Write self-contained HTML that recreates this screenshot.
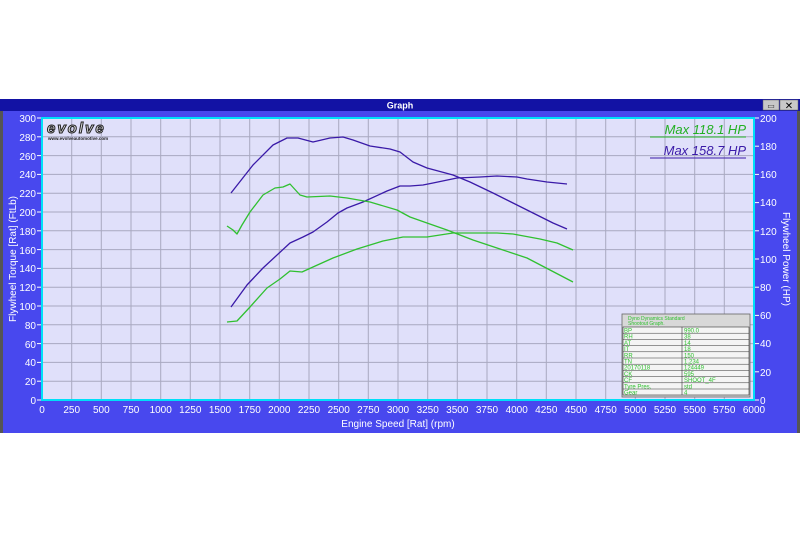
<!DOCTYPE html>
<html><head><meta charset="utf-8"><style>
html,body{margin:0;padding:0;background:#fff;width:800px;height:533px;overflow:hidden}
svg{display:block}
text{font-family:"Liberation Sans",sans-serif}
</style></head><body>
<svg width="800" height="533" viewBox="0 0 800 533" xmlns="http://www.w3.org/2000/svg">
<rect x="0" y="0" width="800" height="533" fill="#fff"/>
<!-- window -->
<rect x="0" y="99" width="800" height="334" fill="#4848ee"/>
<rect x="0" y="99" width="3" height="334" fill="#555"/>
<rect x="797" y="99" width="3" height="334" fill="#555"/>
<rect x="0" y="99" width="800" height="12" fill="#1212a4"/>
<text x="400" y="108.5" font-size="9" font-weight="bold" fill="#fff" text-anchor="middle">Graph</text>
<rect x="763" y="100" width="16" height="10" fill="#c8c8c8" stroke="#666" stroke-width="0.5"/>
<rect x="780" y="100" width="18" height="10" fill="#c8c8c8" stroke="#666" stroke-width="0.5"/>
<text x="771" y="108.5" font-size="8" text-anchor="middle" fill="#333">▭</text>
<text x="789" y="109" font-size="10" text-anchor="middle" fill="#000">✕</text>
<!-- plot -->
<rect x="41" y="117" width="714" height="284" fill="#00e0f8"/>
<rect x="43" y="119" width="710" height="280" fill="#e0e0fa"/>
<g stroke="#a8a8c0" stroke-width="1">
<line x1="71.7" y1="119" x2="71.7" y2="399"/><line x1="101.3" y1="119" x2="101.3" y2="399"/><line x1="131" y1="119" x2="131" y2="399"/><line x1="160.7" y1="119" x2="160.7" y2="399"/><line x1="190.3" y1="119" x2="190.3" y2="399"/><line x1="220" y1="119" x2="220" y2="399"/><line x1="249.7" y1="119" x2="249.7" y2="399"/><line x1="279.3" y1="119" x2="279.3" y2="399"/><line x1="309" y1="119" x2="309" y2="399"/><line x1="338.7" y1="119" x2="338.7" y2="399"/><line x1="368.3" y1="119" x2="368.3" y2="399"/><line x1="398" y1="119" x2="398" y2="399"/><line x1="427.7" y1="119" x2="427.7" y2="399"/><line x1="457.3" y1="119" x2="457.3" y2="399"/><line x1="487" y1="119" x2="487" y2="399"/><line x1="516.7" y1="119" x2="516.7" y2="399"/><line x1="546.3" y1="119" x2="546.3" y2="399"/><line x1="576" y1="119" x2="576" y2="399"/><line x1="605.7" y1="119" x2="605.7" y2="399"/><line x1="635.3" y1="119" x2="635.3" y2="399"/><line x1="665" y1="119" x2="665" y2="399"/><line x1="694.7" y1="119" x2="694.7" y2="399"/><line x1="724.3" y1="119" x2="724.3" y2="399"/>
<line x1="43" y1="381.2" x2="753" y2="381.2"/><line x1="43" y1="362.4" x2="753" y2="362.4"/><line x1="43" y1="343.6" x2="753" y2="343.6"/><line x1="43" y1="324.8" x2="753" y2="324.8"/><line x1="43" y1="306" x2="753" y2="306"/><line x1="43" y1="287.2" x2="753" y2="287.2"/><line x1="43" y1="268.4" x2="753" y2="268.4"/><line x1="43" y1="249.6" x2="753" y2="249.6"/><line x1="43" y1="230.8" x2="753" y2="230.8"/><line x1="43" y1="212" x2="753" y2="212"/><line x1="43" y1="193.2" x2="753" y2="193.2"/><line x1="43" y1="174.4" x2="753" y2="174.4"/><line x1="43" y1="155.6" x2="753" y2="155.6"/><line x1="43" y1="136.8" x2="753" y2="136.8"/>
</g>
<!-- logo -->
<text x="47" y="133" font-size="15" font-weight="bold" fill="#ddd" stroke="#222" stroke-width="1" letter-spacing="2" font-style="italic">evolve</text>
<text x="48" y="140" font-size="4.5" fill="#222" font-weight="bold">www.evolveautomotive.com</text>
<!-- curves -->
<g fill="none" stroke-width="1.3" stroke-linejoin="round">
<polyline stroke="#3a1aa8" points="231,193 253,165 273,145 287,138 298,138 313,142 330,138 343,137 353,140 370,146 390,149 400,152 413,162 427,168 453,175 470,182 493,193 513,203 533,213 553,223 567,229"/>
<polyline stroke="#3a1aa8" points="231,307 247,285 263,268 290,243 303,237 313,232 327,222 338,213 347,208 363,202 387,191 400,186 410,186 423,185 433,183 457,178 480,177 497,176 517,177 527,179 547,182 567,184"/>
<polyline stroke="#30c030" points="227,226 233,230 237,234 242,225 250,212 263,195 275,188 283,187 290,184 300,195 307,197 330,196 347,198 370,202 397,210 410,217 427,223 447,230 473,240 503,250 527,258 550,270 573,282"/>
<polyline stroke="#30c030" points="227,322 237,321 250,307 267,288 280,279 290,271 302,272 313,267 333,258 357,249 383,241 403,237 427,237 453,233 497,233 513,234 540,239 557,243 573,250"/>
</g>
<!-- max labels -->
<text x="746" y="134" font-size="13" font-style="italic" fill="#22b022" text-anchor="end">Max 118.1 HP</text>
<line x1="650" y1="137" x2="746" y2="137" stroke="#22b022" stroke-width="1"/>
<text x="746" y="155" font-size="13" font-style="italic" fill="#3a1aa8" text-anchor="end">Max 158.7 HP</text>
<line x1="650" y1="158" x2="746" y2="158" stroke="#3a1aa8" stroke-width="1"/>
<!-- info box -->
<rect x="622" y="314" width="128" height="83" fill="#d8d8d8" stroke="#666" stroke-width="0.8"/>
<text x="628" y="320" font-size="5" fill="#30c030">Dyno Dynamics Standard</text>
<text x="628" y="325" font-size="5" fill="#30c030">Shootout Graph.</text>
<rect x="623" y="327" width="126" height="68" fill="#f4f4f4" stroke="#333" stroke-width="0.6"/>
<line x1="682" y1="327" x2="682" y2="395" stroke="#333" stroke-width="0.6"/>
<g stroke="#333" stroke-width="0.5">
<line x1="623" y1="333.2" x2="749" y2="333.2"/><line x1="623" y1="339.4" x2="749" y2="339.4"/><line x1="623" y1="345.6" x2="749" y2="345.6"/><line x1="623" y1="351.8" x2="749" y2="351.8"/><line x1="623" y1="358" x2="749" y2="358"/><line x1="623" y1="364.2" x2="749" y2="364.2"/><line x1="623" y1="370.4" x2="749" y2="370.4"/><line x1="623" y1="376.6" x2="749" y2="376.6"/><line x1="623" y1="382.8" x2="749" y2="382.8"/><line x1="623" y1="389" x2="749" y2="389"/>
</g>
<g font-size="6" fill="#30c030">
<text x="624" y="332.5">BP</text><text x="684" y="332.5">990.0</text>
<text x="624" y="338.7">RH</text><text x="684" y="338.7">38</text>
<text x="624" y="344.9">AT</text><text x="684" y="344.9">14</text>
<text x="624" y="351.1">IT</text><text x="684" y="351.1">18</text>
<text x="624" y="357.3">RR</text><text x="684" y="357.3">150</text>
<text x="624" y="363.5">TN</text><text x="684" y="363.5">1.234</text>
<text x="624" y="369.7">20170118</text><text x="684" y="369.7">124449</text>
<text x="624" y="375.9">CK</text><text x="684" y="375.9">595</text>
<text x="624" y="382.1">CF</text><text x="684" y="382.1">SHOOT_4F</text>
<text x="624" y="388.3">Tyre Pres.</text><text x="684" y="388.3">std</text>
<text x="624" y="394.5">Gear</text><text x="684" y="394.5">4</text>
</g>
<!-- left axis -->
<g font-size="10" fill="#fff" text-anchor="end">
<text x="36" y="404">0</text><text x="36" y="385">20</text><text x="36" y="366">40</text><text x="36" y="348">60</text><text x="36" y="329">80</text><text x="36" y="310">100</text><text x="36" y="291">120</text><text x="36" y="272">140</text><text x="36" y="254">160</text><text x="36" y="235">180</text><text x="36" y="216">200</text><text x="36" y="197">220</text><text x="36" y="178">240</text><text x="36" y="160">260</text><text x="36" y="141">280</text><text x="36" y="122">300</text>
</g>
<g stroke="#fff" stroke-width="1">
<line x1="37" y1="400" x2="41" y2="400"/><line x1="37" y1="381.2" x2="41" y2="381.2"/><line x1="37" y1="362.4" x2="41" y2="362.4"/><line x1="37" y1="343.6" x2="41" y2="343.6"/><line x1="37" y1="324.8" x2="41" y2="324.8"/><line x1="37" y1="306" x2="41" y2="306"/><line x1="37" y1="287.2" x2="41" y2="287.2"/><line x1="37" y1="268.4" x2="41" y2="268.4"/><line x1="37" y1="249.6" x2="41" y2="249.6"/><line x1="37" y1="230.8" x2="41" y2="230.8"/><line x1="37" y1="212" x2="41" y2="212"/><line x1="37" y1="193.2" x2="41" y2="193.2"/><line x1="37" y1="174.4" x2="41" y2="174.4"/><line x1="37" y1="155.6" x2="41" y2="155.6"/><line x1="37" y1="136.8" x2="41" y2="136.8"/><line x1="37" y1="118" x2="41" y2="118"/>
<line x1="755" y1="400" x2="759" y2="400"/><line x1="755" y1="371.8" x2="759" y2="371.8"/><line x1="755" y1="343.6" x2="759" y2="343.6"/><line x1="755" y1="315.4" x2="759" y2="315.4"/><line x1="755" y1="287.2" x2="759" y2="287.2"/><line x1="755" y1="259" x2="759" y2="259"/><line x1="755" y1="230.8" x2="759" y2="230.8"/><line x1="755" y1="202.6" x2="759" y2="202.6"/><line x1="755" y1="174.4" x2="759" y2="174.4"/><line x1="755" y1="146.2" x2="759" y2="146.2"/><line x1="755" y1="118" x2="759" y2="118"/>
</g>
<text transform="translate(16,259) rotate(-90)" font-size="10" fill="#fff" text-anchor="middle">Flywheel Torque [Rat] (FtLb)</text>
<!-- right axis -->
<g font-size="10" fill="#fff">
<text x="760" y="404">0</text><text x="760" y="376">20</text><text x="760" y="347">40</text><text x="760" y="319">60</text><text x="760" y="291">80</text><text x="760" y="263">100</text><text x="760" y="235">120</text><text x="760" y="206">140</text><text x="760" y="178">160</text><text x="760" y="150">180</text><text x="760" y="122">200</text>
</g>
<text transform="translate(783,259) rotate(90)" font-size="10" fill="#fff" text-anchor="middle">Flywheel Power (HP)</text>
<!-- x axis -->
<g font-size="10" fill="#fff" text-anchor="middle">
<text x="42" y="413">0</text><text x="71.7" y="413">250</text><text x="101.3" y="413">500</text><text x="131" y="413">750</text><text x="160.7" y="413">1000</text><text x="190.3" y="413">1250</text><text x="220" y="413">1500</text><text x="249.7" y="413">1750</text><text x="279.3" y="413">2000</text><text x="309" y="413">2250</text><text x="338.7" y="413">2500</text><text x="368.3" y="413">2750</text><text x="398" y="413">3000</text><text x="427.7" y="413">3250</text><text x="457.3" y="413">3500</text><text x="487" y="413">3750</text><text x="516.7" y="413">4000</text><text x="546.3" y="413">4250</text><text x="576" y="413">4500</text><text x="605.7" y="413">4750</text><text x="635.3" y="413">5000</text><text x="665" y="413">5250</text><text x="694.7" y="413">5500</text><text x="724.3" y="413">5750</text><text x="754" y="413">6000</text>
<text x="398" y="427">Engine Speed [Rat] (rpm)</text>
</g>
</svg>
</body></html>
